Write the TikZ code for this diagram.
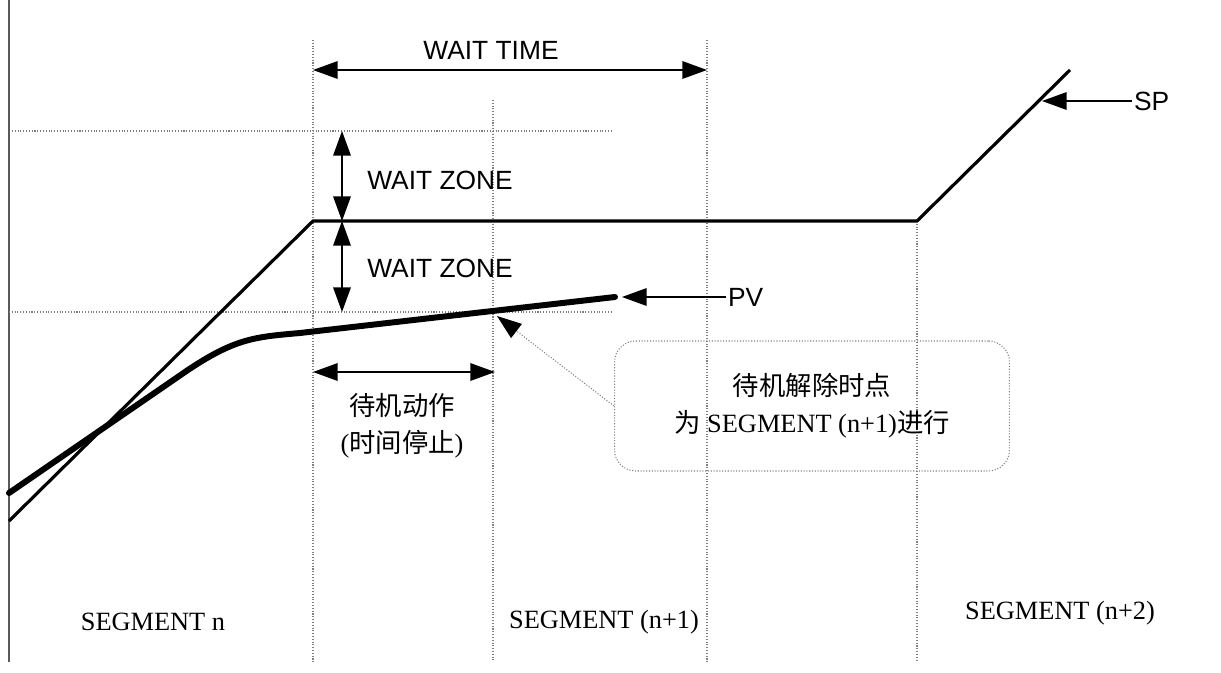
\documentclass[tikz,border=0pt]{standalone}
\usepackage{fontspec}
\setmainfont{Liberation Serif}
\setsansfont{Liberation Sans}
\newfontfamily\cjk{Noto Sans CJK SC}
\usepackage{xcolor}
\definecolor{cLine}{HTML}{000000}
\definecolor{cGrid}{HTML}{7F7F7F}
\definecolor{cAxis}{HTML}{595959}
\usepackage{tikz}
\usetikzlibrary{arrows.meta}
\tikzset{
  grid-line/.style={densely dotted,draw=cGrid,line width=0.6pt},
  axis-line/.style={draw=cAxis,line width=0.9pt},
  sp-line/.style={draw=cLine,line width=1.8pt},
  pv-line/.style={draw=cLine,line width=3.4pt,line cap=round},
  dim-arrow/.style={{Triangle[length=14pt,width=10pt]}-{Triangle[length=14pt,width=10pt]},
    line width=0.7pt,draw=cLine},
  ptr-arrow/.style={-{Triangle[length=14pt,width=10pt]},line width=0.7pt,draw=cLine},
  lead-arrow/.style={-{Triangle[length=14pt,width=10pt,color=cLine]},
    densely dotted,line width=0.6pt,draw=cGrid},
  lbl-sans/.style={font=\sffamily\fontsize{15}{18}\selectfont,inner sep=1pt},
  lbl-serif/.style={font=\fontsize{15}{21}\selectfont,align=center,inner sep=1pt},
  note-box/.style={draw=cGrid,densely dotted,line width=0.6pt,rounded corners=12pt,
    minimum width=7.9cm,minimum height=2.6cm,align=center,
    font=\fontsize{15}{21}\selectfont},
}
\begin{document}
\begin{tikzpicture}[x=0.02cm,y=-0.02cm]
  \useasboundingbox (0,0) rectangle (1221,673);
  % grid
  \draw[axis-line] (9,0) -- (9,662);
  \draw[grid-line] (313,40) -- (313,662);
  \draw[grid-line] (493,100) -- (493,662);
  \draw[grid-line] (707,40) -- (707,662);
  \draw[grid-line] (917,221) -- (917,662);
  \draw[grid-line] (12,131) -- (613,131);
  \draw[grid-line] (9,312) -- (613,312);
  % SP and PV
  \coordinate (sp-0) at (9,521);
  \coordinate (sp-1) at (313,221);
  \coordinate (sp-2) at (917,221);
  \coordinate (sp-3) at (1070,70);
  \draw[sp-line] (sp-0) -- (sp-1) -- (sp-2) -- (sp-3);
  \coordinate (pv-0) at (9,493);
  \coordinate (pv-1) at (185,372);
  \coordinate (pv-2) at (300,333);
  \coordinate (pv-3) at (615,297);
  \draw[pv-line] (pv-0) -- (pv-1) .. controls (235,338) and (255,337) .. (pv-2) -- (pv-3);
  % dimensions
  \coordinate (wt-l) at (313,70);
  \coordinate (wt-r) at (707,70);
  \draw[dim-arrow] (wt-l) -- (wt-r);
  \node[lbl-sans] (wt) at (491,50) {WAIT TIME};
  \coordinate (wz-top) at (342,131);
  \coordinate (wz-mid) at (342,221);
  \coordinate (wz-bot) at (342,312);
  \draw[dim-arrow] (wz-top) -- (wz-mid);
  \draw[dim-arrow] (wz-mid) -- (wz-bot);
  \node[lbl-sans] (wz-up) at (440,180) {WAIT ZONE};
  \node[lbl-sans] (wz-dn) at (440,268) {WAIT ZONE};
  \coordinate (act-l) at (313,372);
  \coordinate (act-r) at (495,372);
  \draw[dim-arrow] (act-l) -- (act-r);
  \node[lbl-serif] (act) at (402,426) {{\cjk 待机动作}\\({\cjk 时间停止})};
  % pointers
  \node[lbl-sans,anchor=west] (pv) at (726,297) {PV};
  \coordinate (pv-tip) at (622,297);
  \draw[ptr-arrow] (pv.west) -- (pv-tip);
  \node[lbl-sans,anchor=west] (sp) at (1132,101) {SP};
  \coordinate (sp-tip) at (1042,101);
  \draw[ptr-arrow] (sp.west) -- (sp-tip);
  \node[note-box] (note) at (812,406) {{\cjk 待机解除时点}\\{\cjk 为} SEGMENT (n+1){\cjk 进行}};
  \coordinate (lead-tip) at (497,316);
  \draw[lead-arrow] (note.west) -- (lead-tip);
  % segments
  \node[lbl-serif] (seg-n)  at (153,622) {SEGMENT n};
  \node[lbl-serif] (seg-n1) at (604,622) {SEGMENT (n+1)};
  \node[lbl-serif] (seg-n2) at (1060,613) {SEGMENT (n+2)};
\end{tikzpicture}
\end{document}
